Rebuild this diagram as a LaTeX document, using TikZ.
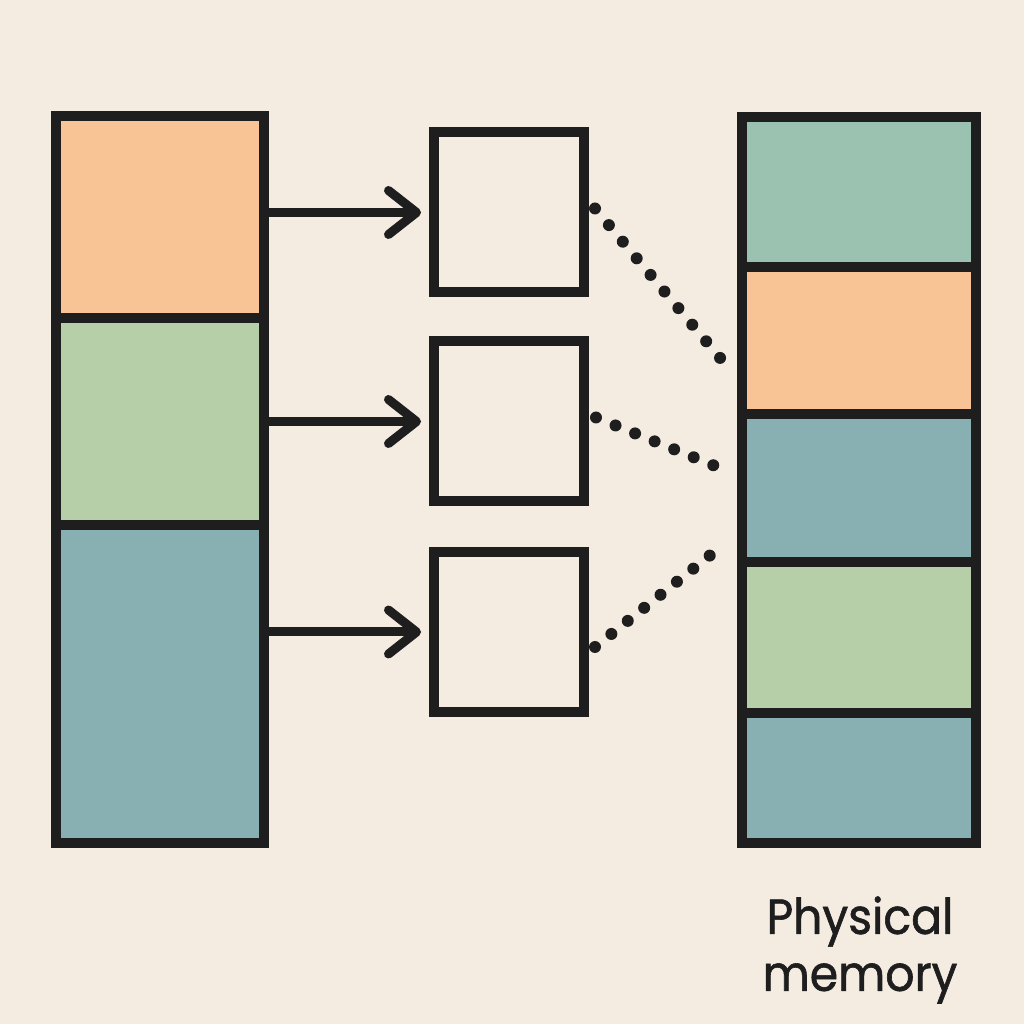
\documentclass[tikz,border=0pt]{standalone}
\usepackage{fontspec}
\setmainfont{Poppins}
\newfontfamily\lblfont{Poppins}[FakeBold=1.2, FakeStretch=0.93]
\usetikzlibrary{arrows.meta}

\definecolor{bgcol}{HTML}{F4EBE1}
\definecolor{inkcol}{HTML}{1E1E1E}
\definecolor{peach}{HTML}{F8C496}
\definecolor{sage}{HTML}{B6CFA9}
\definecolor{slate}{HTML}{88AFB1}
\definecolor{mint}{HTML}{9BC2B1}

\begin{document}
\begin{tikzpicture}[
    seg/.style={draw=inkcol, line width=0.1cm, inner sep=0pt, outer sep=0pt},
    vseg/.style={seg, minimum width=2.08cm},
    pseg/.style={seg, minimum width=2.34cm},
    frame/.style={seg, minimum width=1.5cm, minimum height=1.6cm},
    link/.style={draw=inkcol, line width=0.09cm,
      -{Straight Barb[length=0.28cm, width=0.44cm, line cap=round, line join=round]}},
    dotlink/.style={draw=inkcol, line width=0.12cm, line cap=round, dash pattern=on 0pt off #1}
  ]
    % background and page size
    \fill[bgcol] (0,0) rectangle (10.24,10.24);
    \useasboundingbox (0,0) rectangle (10.24,10.24);

    % virtual memory column
    \node[vseg, fill=peach, minimum height=2.02cm] (v1) at (1.60,8.07) {};
    \node[vseg, fill=sage, minimum height=2.07cm] (v2) at (1.60,6.025) {};
    \node[vseg, fill=slate, minimum height=3.18cm] (v3) at (1.60,3.40) {};

    % page frames in the middle
    \node[frame] (f1) at (5.09,8.115) {};
    \node[frame] (f2) at (5.09,6.025) {};
    \node[frame] (f3) at (5.09,3.92) {};

    % physical memory column
    \node[pseg, fill=mint, minimum height=1.50cm] (p1) at (8.59,8.32) {};
    \node[pseg, fill=peach, minimum height=1.47cm] (p2) at (8.59,6.835) {};
    \node[pseg, fill=slate, minimum height=1.48cm] (p3) at (8.59,5.36) {};
    \node[pseg, fill=sage, minimum height=1.51cm] (p4) at (8.59,3.865) {};
    \node[pseg, fill=slate, minimum height=1.30cm] (p5) at (8.59,2.46) {};

    \node[font=\lblfont\fontsize{14}{16.2}\selectfont, align=center, text=inkcol] (lbl) at (8.60,0.74) {Physical\\memory};

    % arrows from pages to frames
    \foreach \i in {1,2,3} {
      \draw[link, shorten >=0.13cm] (f\i.west -| v1.east) -- (f\i.west);
    }

    % dotted links into physical memory
    \coordinate (d1) at (7.26,6.59);
    \coordinate (d2) at (7.20,5.56);
    \coordinate (d3) at (7.23,4.79);
    \draw[dotlink=0.2165cm] ([shift={(0.11cm,0.04cm)}]f1.east) -- (d1);
    \draw[dotlink=0.2110cm] ([shift={(0.12cm,0.04cm)}]f2.east) -- (d2);
    \draw[dotlink=0.2095cm] ([shift={(0.11cm,-0.15cm)}]f3.east) -- (d3);
\end{tikzpicture}
\end{document}
